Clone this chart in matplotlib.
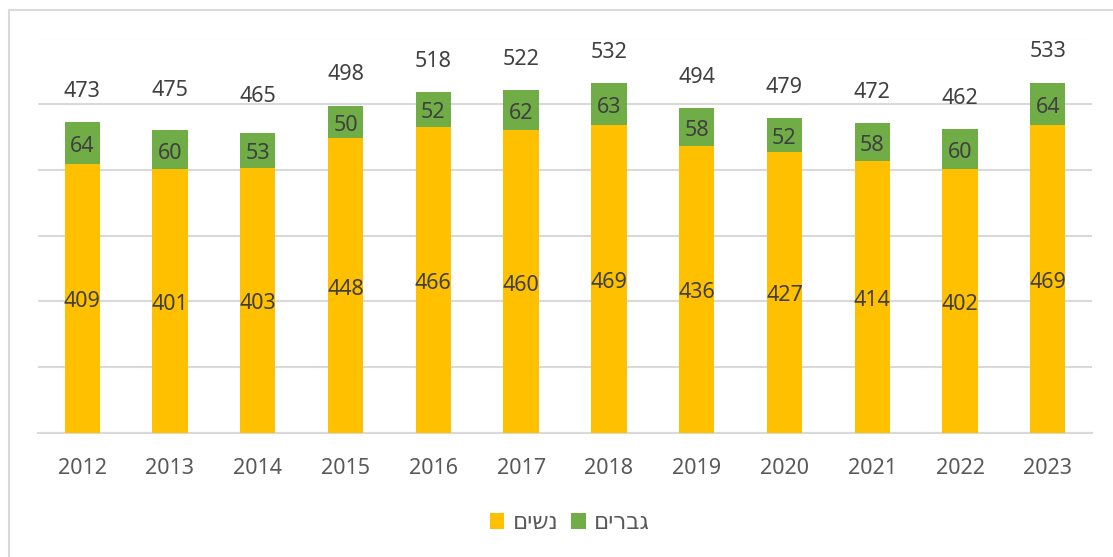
import matplotlib
matplotlib.use('Agg')
import matplotlib.pyplot as plt
from matplotlib.patches import Rectangle
import numpy as np

plt.rcParams['font.family'] = ['Noto Sans', 'DejaVu Sans']

# נתונים
years = ['2012', '2013', '2014', '2015', '2016', '2017', '2018', '2019', '2020', '2021', '2022', '2023']
women = [409, 401, 403, 448, 466, 460, 469, 436, 427, 414, 402, 469]
men = [64, 60, 53, 50, 52, 62, 63, 58, 52, 58, 60, 64]
totals = [473, 475, 465, 498, 518, 522, 532, 494, 479, 472, 462, 533]
# Hebrew labels, written in visual (left-to-right) order
label_women = 'םישנ'   # נשים
label_men = 'םירבג'    # גברים

c_women = '#FFC000'
c_men = '#70AD47'
c_text = '#404040'
c_axis = '#595959'
c_grid = '#D9D9D9'

fig = plt.figure(figsize=(11.13, 5.57), dpi=100)
ax = fig.add_axes([38.3 / 1113, 1 - 432.7 / 557, (1091.7 - 38.3) / 1113, (432.7 - 38.5) / 557])

x = np.arange(len(years))
b1 = ax.bar(x, women, width=0.403, color=c_women, zorder=3)
b2 = ax.bar(x, men, width=0.403, bottom=women, color=c_men, zorder=3)

# labels inside the segments (a little below centre, like Excel)
for xi, w, m in zip(x, women, men):
    ax.annotate(str(w), (xi, w / 2), xytext=(0, -2.5), textcoords='offset points',
                ha='center', va='center', fontsize=15.5, color=c_text, zorder=4)
    ax.annotate(str(m), (xi, w + m / 2), xytext=(0, -2.5), textcoords='offset points',
                ha='center', va='center', fontsize=15.5, color=c_text, zorder=4)

# totals above the bars
for xi, tot in zip(x, totals):
    ax.annotate(str(tot), (xi, tot), xytext=(0, 22), textcoords='offset points',
                ha='center', va='center', fontsize=15.5, color=c_text)

ax.set_xlim(-0.5, len(years) - 0.5)
ax.set_ylim(0, 600)
ax.set_yticks(range(0, 601, 100))
ax.yaxis.grid(True, color=c_grid, linewidth=1.5, zorder=0)
ax.tick_params(axis='y', left=False, labelleft=False)
ax.set_xticks(x)
ax.set_xticklabels(years, fontsize=15.5, color=c_axis)
ax.tick_params(axis='x', length=0, pad=18.5)
for s in ['top', 'right', 'left']:
    ax.spines[s].set_visible(False)
ax.spines['bottom'].set_color(c_grid)
ax.spines['bottom'].set_linewidth(1.5)

leg = fig.legend([b1, b2], [label_women, label_men], loc='center', bbox_to_anchor=(569.5 / 1113, 1 - 523 / 557),
                 ncol=2, frameon=False, fontsize=16.5, handlelength=0.65, handleheight=0.65,
                 handletextpad=0.35, columnspacing=0.55, labelcolor=c_axis)

fig.patches.append(Rectangle((8.5 / 1113, -0.02), 1.05, 1 - 9.5 / 557 + 0.02, transform=fig.transFigure,
                             fill=False, edgecolor=c_grid, linewidth=1.5))

fig.savefig('out.png', dpi=100)
